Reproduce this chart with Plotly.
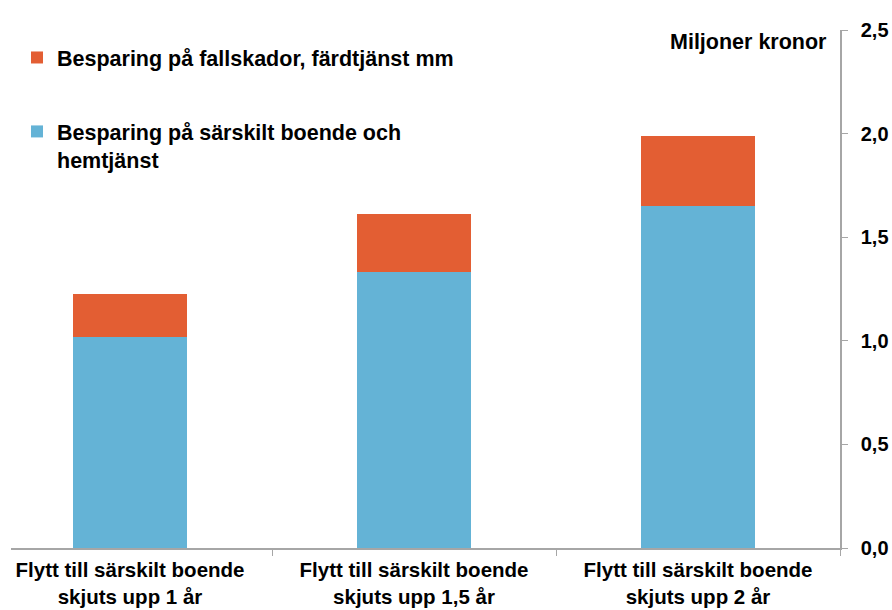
import plotly.graph_objects as go

categories = [
    "Flytt till särskilt boende<br>skjuts upp 1 år",
    "Flytt till särskilt boende<br>skjuts upp 1,5 år",
    "Flytt till särskilt boende<br>skjuts upp 2 år",
]
boende_hemtjanst = [1.02, 1.33, 1.65]
fallskador = [0.205, 0.28, 0.34]
series_names = [
    "Besparing på särskilt boende och<br>hemtjänst",
    "Besparing på fallskador, färdtjänst mm",
]
y_ticks = [0, 0.5, 1.0, 1.5, 2.0, 2.5]
unit_label = "Miljoner kronor"

FONT = "Arial, Liberation Sans, Helvetica, sans-serif"
BLUE = "#64B3D6"
ORANGE = "#E35E33"
AXIS = "#A6A6A6"

fig = go.Figure()
fig.add_trace(go.Bar(
    x=categories, y=boende_hemtjanst, name=series_names[0],
    marker=dict(color=BLUE, line=dict(width=0)), width=0.40,
    legendgroup="a", legendrank=2,
))
fig.add_trace(go.Bar(
    x=categories, y=fallskador, name=series_names[1],
    marker=dict(color=ORANGE, line=dict(width=0)), width=0.40,
    legendgroup="b", legendrank=1,
))

fig.update_layout(
    width=892, height=610,
    barmode="stack",
    separators=", ",
    paper_bgcolor="white", plot_bgcolor="white",
    margin=dict(l=11, r=52, t=30, b=62, autoexpand=False),
    font=dict(family=FONT, size=20, color="black", weight="bold"),
    legend=dict(
        xref="paper", yref="paper",
        x=6 / 829, y=1 - 7 / 518, xanchor="left", yanchor="top",
        traceorder="grouped", tracegroupgap=43,
        valign="top",
        font=dict(family=FONT, size=21.5, color="black", weight="bold"),
        bgcolor="rgba(0,0,0,0)",
    ),
    showlegend=True,
)
fig.update_xaxes(
    type="category", range=[-0.419, 2.5],
    showline=True, linecolor=AXIS, linewidth=1.5,
    ticks="outside", ticklen=6, tickcolor=AXIS, tickwidth=1,
    tickson="boundaries", tickangle=0, automargin=False,
    showgrid=False, zeroline=False,
    tickfont=dict(family=FONT, size=20.5, color="black", weight="bold"),
    ticklabelstandoff=3,
)
fig.update_yaxes(
    side="right", range=[0, 2.5], automargin=False,
    tickvals=y_ticks, tickformat=".1f",
    showline=True, linecolor=AXIS, linewidth=1.5,
    ticks="outside", ticklen=6, tickcolor=AXIS, tickwidth=1,
    showgrid=False, zeroline=False,
    tickfont=dict(family=FONT, size=20, color="black", weight="bold"),
    ticklabelstandoff=9,
)
fig.add_annotation(
    text=unit_label, xref="paper", yref="paper",
    x=1, y=1, xanchor="right", yanchor="middle",
    xshift=-11, yshift=-12, showarrow=False,
    font=dict(family=FONT, size=21.5, color="black", weight="bold"),
)

# remove the default 8px page margin so the 892x610 figure fills the window
fig.write_html(
    "out.html",
    config={"displayModeBar": False},
    post_script="document.body.style.margin='0';"
                "document.documentElement.style.overflow='hidden';"
                "document.body.style.overflow='hidden';",
)
